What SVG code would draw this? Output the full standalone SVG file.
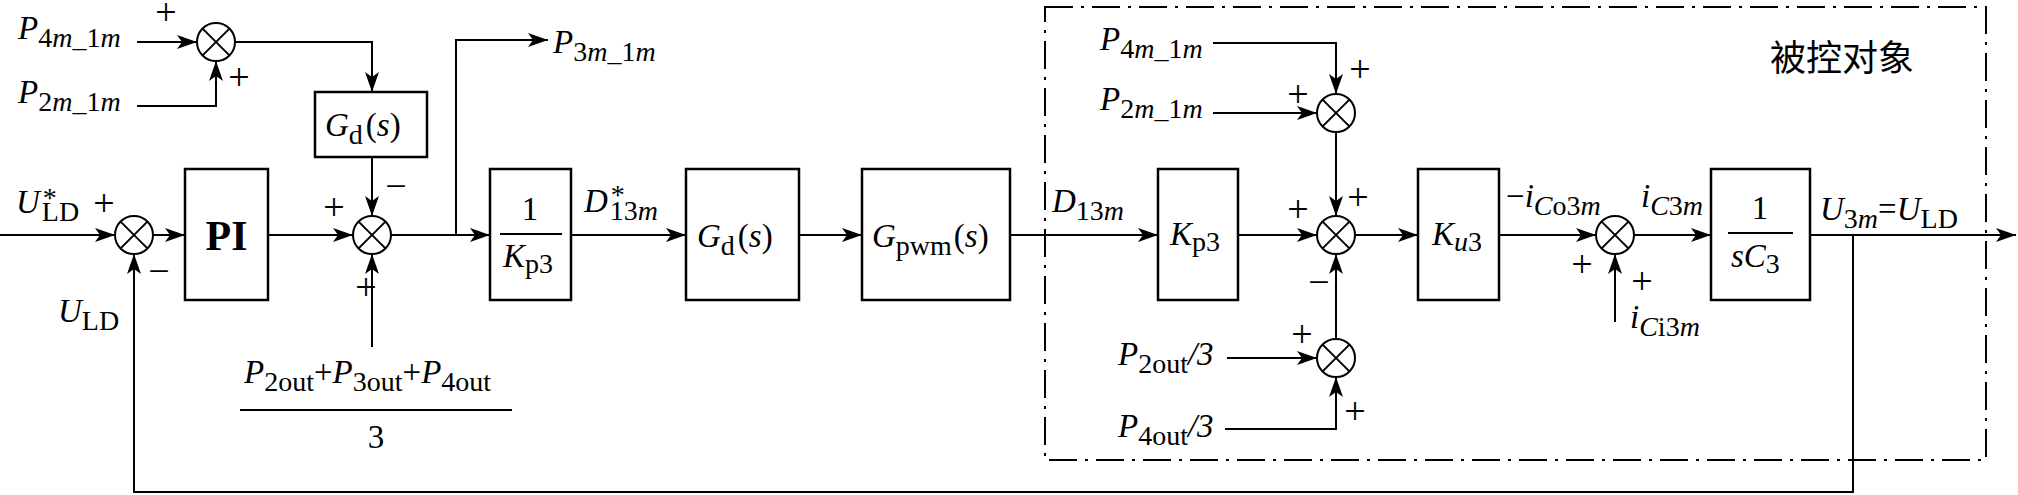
<svg xmlns="http://www.w3.org/2000/svg" width="2018" height="495" viewBox="0 0 2018 495">
<style>
.t{font-family:"Liberation Serif","Times New Roman",serif;font-size:33px;fill:#000}
.i{font-style:italic}
.s{font-size:28px}
.sg{font-family:"Liberation Serif","Times New Roman",serif;font-size:38px;fill:#000;text-anchor:middle}
.c{text-anchor:middle}
.box{fill:#fff;stroke:#000;stroke-width:2.5}
.sum{fill:#fff;stroke:#000;stroke-width:2}
.x{stroke:#000;stroke-width:2}
.ln{fill:none;stroke:#000;stroke-width:2}
.ar{fill:none;stroke:#000;stroke-width:2;marker-end:url(#ah)}
</style>
<defs>
<marker id="ah" markerWidth="20" markerHeight="14" refX="20" refY="7" orient="auto" markerUnits="userSpaceOnUse"><path d="M0,0 L20,7 L0,14 L5,7 Z" fill="#000"/></marker>
<g id="sx"><circle r="19" class="sum"/><line x1="-13.4" y1="-13.4" x2="13.4" y2="13.4" class="x"/><line x1="-13.4" y1="13.4" x2="13.4" y2="-13.4" class="x"/></g>
</defs>
<rect width="2018" height="495" fill="#fff"/>

<g id="plant-frame">
<rect x="1045" y="7" width="941" height="453" fill="none" stroke="#000" stroke-width="2" stroke-dasharray="28 8 3 8"/>
<text x="1770" y="71" style="font-family:'Noto Sans CJK SC','Noto Sans CJK JP',sans-serif;font-size:36px;fill:#000">被控对象</text>
</g>

<g id="connectors">
<path d="M137,42 H197" class="ar"/>
<path d="M137,106 H216 V61" class="ar"/>
<path d="M235,42 H372 V92" class="ar"/>
<path d="M372,157 V216" class="ar"/>
<path d="M0,235 H115" class="ar"/>
<path d="M153,235 H185" class="ar"/>
<path d="M268,235 H353" class="ar"/>
<path d="M391,235 H490" class="ar"/>
<path d="M456,235 V40 H548" class="ar"/>
<path d="M372,347 V254" class="ar"/>
<path d="M571,235 H686" class="ar"/>
<path d="M799,235 H862" class="ar"/>
<path d="M1010,235 H1158" class="ar"/>
<path d="M1238,235 H1317" class="ar"/>
<path d="M1213,43 H1336 V94" class="ar"/>
<path d="M1213,113 H1317" class="ar"/>
<path d="M1336,132 V216" class="ar"/>
<path d="M1355,235 H1418" class="ar"/>
<path d="M1336,339 V254" class="ar"/>
<path d="M1227,358 H1317" class="ar"/>
<path d="M1225,429 H1336 V377" class="ar"/>
<path d="M1499,235 H1596" class="ar"/>
<path d="M1615,322 V254" class="ar"/>
<path d="M1634,235 H1711" class="ar"/>
<path d="M1810,235 H2016" class="ar"/>
<path d="M1853,235 V492 H134 V254" class="ar"/>
</g>

<g id="sum1"><use href="#sx" x="216" y="42"/></g>
<g id="sumA"><use href="#sx" x="134" y="235"/></g>
<g id="sumB"><use href="#sx" x="372" y="235"/></g>
<g id="sumU"><use href="#sx" x="1336" y="113"/></g>
<g id="sumC"><use href="#sx" x="1336" y="235"/></g>
<g id="sumL"><use href="#sx" x="1336" y="358"/></g>
<g id="sumD"><use href="#sx" x="1615" y="235"/></g>

<g id="gd-top"><rect x="315" y="92" width="112" height="65" class="box"/>
<text x="325" y="136" class="t"><tspan class="i">G</tspan><tspan class="s" dy="8">d</tspan><tspan dy="-8" dx="3">(</tspan><tspan class="i">s</tspan>)</text></g>

<g id="pi"><rect x="185" y="169" width="83" height="131" class="box"/>
<text x="226.5" y="250" class="t c" style="font-size:42px;font-weight:bold">PI</text></g>

<g id="inv-kp3"><rect x="490" y="169" width="81" height="131" class="box"/>
<text x="530" y="220" class="t c">1</text>
<line x1="500" y1="234" x2="562" y2="234" class="ln"/>
<text x="503" y="267" class="t"><tspan class="i">K</tspan><tspan class="s" dy="6">p3</tspan></text></g>

<g id="gd"><rect x="686" y="169" width="113" height="131" class="box"/>
<text x="697" y="247" class="t"><tspan class="i">G</tspan><tspan class="s" dy="8">d</tspan><tspan dy="-8" dx="3">(</tspan><tspan class="i">s</tspan>)</text></g>

<g id="gpwm"><rect x="862" y="169" width="148" height="131" class="box"/>
<text x="872" y="247" class="t"><tspan class="i">G</tspan><tspan class="s" dy="8">pwm</tspan><tspan dy="-8" dx="2">(</tspan><tspan class="i">s</tspan>)</text></g>

<g id="kp3"><rect x="1158" y="169" width="80" height="131" class="box"/>
<text x="1170" y="245" class="t"><tspan class="i">K</tspan><tspan class="s" dy="6">p3</tspan></text></g>

<g id="ku3"><rect x="1418" y="169" width="81" height="131" class="box"/>
<text x="1432" y="245" class="t"><tspan class="i">K</tspan><tspan class="s" dy="6"><tspan class="i">u</tspan>3</tspan></text></g>

<g id="inv-sc3"><rect x="1711" y="169" width="99" height="131" class="box"/>
<text x="1760" y="219" class="t c">1</text>
<line x1="1728" y1="233" x2="1793" y2="233" class="ln"/>
<text x="1731" y="267" class="t"><tspan class="i">sC</tspan><tspan class="s" dy="6">3</tspan></text></g>

<g id="labels">
<text x="18" y="39" class="t"><tspan class="i">P</tspan><tspan class="s" dy="8">4<tspan class="i">m</tspan>_1<tspan class="i">m</tspan></tspan></text>
<text x="18" y="103" class="t"><tspan class="i">P</tspan><tspan class="s" dy="8">2<tspan class="i">m</tspan>_1<tspan class="i">m</tspan></tspan></text>
<text x="553" y="53" class="t"><tspan class="i">P</tspan><tspan class="s" dy="8">3<tspan class="i">m</tspan>_1<tspan class="i">m</tspan></tspan></text>
<text x="16" y="213" class="t"><tspan class="i">U</tspan><tspan class="s" dy="-6" dx="3">*</tspan><tspan class="s" dx="-15" dy="14">LD</tspan></text>
<text x="58" y="322" class="t"><tspan class="i">U</tspan><tspan class="s" dy="8">LD</tspan></text>
<text x="244" y="383" class="t"><tspan class="i">P</tspan><tspan class="s" dy="8">2out</tspan><tspan dy="-8">+</tspan><tspan class="i">P</tspan><tspan class="s" dy="8">3out</tspan><tspan dy="-8">+</tspan><tspan class="i">P</tspan><tspan class="s" dy="8">4out</tspan></text>
<line x1="240" y1="410" x2="512" y2="410" class="ln"/>
<text x="376" y="448" class="t c">3</text>
<text x="584" y="212" class="t"><tspan class="i">D</tspan><tspan class="s" dy="-8" dx="3">*</tspan><tspan class="s" dx="-15" dy="16">13<tspan class="i">m</tspan></tspan></text>
<text x="1052" y="212" class="t"><tspan class="i">D</tspan><tspan class="s" dy="8">13<tspan class="i">m</tspan></tspan></text>
<text x="1100" y="50" class="t"><tspan class="i">P</tspan><tspan class="s" dy="8">4<tspan class="i">m</tspan>_1<tspan class="i">m</tspan></tspan></text>
<text x="1100" y="110" class="t"><tspan class="i">P</tspan><tspan class="s" dy="8">2<tspan class="i">m</tspan>_1<tspan class="i">m</tspan></tspan></text>
<text x="1118" y="365" class="t"><tspan class="i">P</tspan><tspan class="s" dy="8">2out</tspan><tspan dy="-8" class="i">/3</tspan></text>
<text x="1118" y="437" class="t"><tspan class="i">P</tspan><tspan class="s" dy="8">4out</tspan><tspan dy="-8" class="i">/3</tspan></text>
<text x="1506" y="207" class="t">−<tspan class="i">i</tspan><tspan class="s" dy="8"><tspan class="i">C</tspan>o3<tspan class="i">m</tspan></tspan></text>
<text x="1641" y="207" class="t"><tspan class="i">i</tspan><tspan class="s" dy="8"><tspan class="i">C</tspan>3<tspan class="i">m</tspan></tspan></text>
<text x="1630" y="328" class="t"><tspan class="i">i</tspan><tspan class="s" dy="8"><tspan class="i">C</tspan>i3<tspan class="i">m</tspan></tspan></text>
<text x="1820" y="220" class="t"><tspan class="i">U</tspan><tspan class="s" dy="8">3<tspan class="i">m</tspan></tspan><tspan dy="-8">=</tspan><tspan class="i">U</tspan><tspan class="s" dy="8">LD</tspan></text>
</g>

<g id="signs">
<text x="166" y="25" class="sg">+</text>
<text x="239" y="90" class="sg">+</text>
<text x="104" y="216" class="sg">+</text>
<text x="159" y="284" class="sg">−</text>
<text x="334" y="220" class="sg">+</text>
<text x="396" y="199" class="sg">−</text>
<text x="366" y="300" class="sg">+</text>
<text x="1360" y="82" class="sg">+</text>
<text x="1298" y="107" class="sg">+</text>
<text x="1298" y="222" class="sg">+</text>
<text x="1358" y="210" class="sg">+</text>
<text x="1319" y="295" class="sg">−</text>
<text x="1302" y="347" class="sg">+</text>
<text x="1355" y="424" class="sg">+</text>
<text x="1582" y="277" class="sg">+</text>
<text x="1642" y="294" class="sg">+</text>
</g>
</svg>
